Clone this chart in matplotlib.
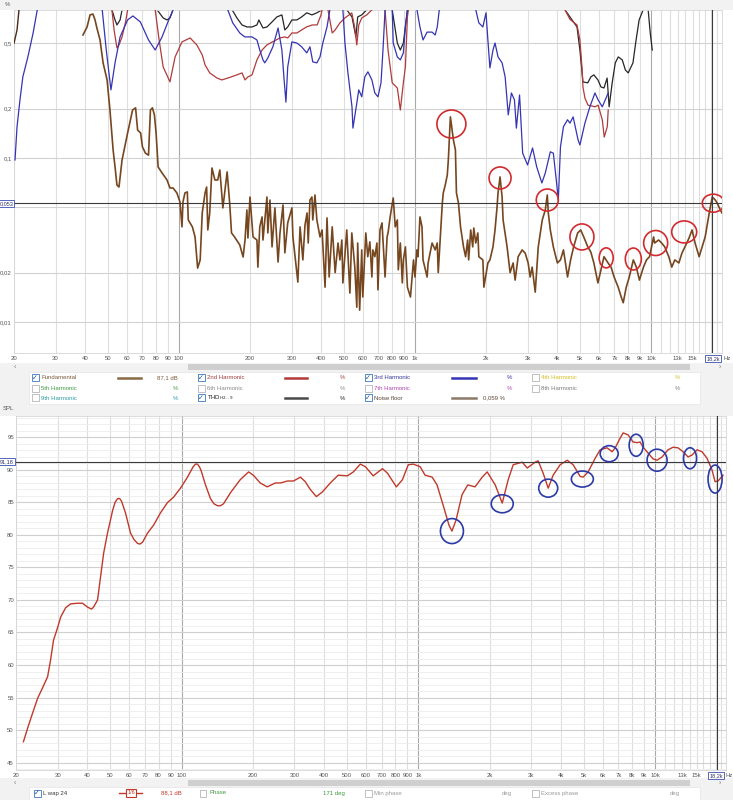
import numpy as np
import matplotlib
matplotlib.use("Agg")
import matplotlib.pyplot as plt
from matplotlib.patches import Ellipse, Rectangle
from matplotlib.transforms import ScaledTranslation
from matplotlib.ticker import NullLocator

plt.rcParams['font.family'] = ['Liberation Sans', 'DejaVu Sans']

# ---------------- DATA ----------------
# Top chart: distortion in %, frequency in Hz
noise_floor_pts = [
    (39.2,0.562),(40.8,0.629),(42.0,0.745),(43.2,0.754),(44.1,0.694),(44.9,0.620),(46.3,0.524),(47.7,0.380),
    (49.6,0.299),(51.0,0.196),(52.6,0.112),(53.6,0.0882),(54.6,0.0684),(55.7,0.0665),(57.4,0.0972),(60.6,0.142),
    (63.6,0.196),(65.5,0.202),(66.8,0.148),(68.8,0.142),(70.0,0.117),(72.1,0.107),(74.3,0.104),(75.7,0.196),
    (77.2,0.202),(78.7,0.183),(80.0,0.142),(81.6,0.0882),(84.8,0.081),(89.0,0.0734),(91.6,0.0656),(94.4,0.0656),
    (98,0.0612),(101,0.0539),(103,0.038),(104,0.0539),(106,0.0612),(108.5,0.0621),(109.5,0.0419),(114,0.038),
    (117,0.033),(120,0.0213),(123,0.0239),(125.5,0.0462),(129,0.0612),(131,0.0665),(132.5,0.0364),(135,0.0462),
    (138,0.0869),(142,0.0734),(146,0.0734),(149,0.0845),(153.5,0.0496),(160,0.0822),(164,0.0532),(167,0.0349),
    (172,0.033),(181,0.0295),(187,0.0249),(190.5,0.0316),(194,0.0482),(196,0.0325),(200,0.0578),(206,0.033),
    (214,0.0316),(216,0.0216),(220,0.038),(225,0.0437),(227,0.0316),(236,0.0578),(238,0.0349),(243,0.0554),
    (248,0.0287),(255,0.0496),(263,0.0232),(268,0.0349),(276,0.0517),(281,0.0264),(289,0.0402),(301,0.0496),
    (304,0.033),(319,0.0175),(326,0.038),(335,0.0239),(342,0.039),(349,0.0462),(353,0.0303),(359,0.0554),
    (366,0.0578),(369,0.0419),(377,0.0595),(384,0.0419),(396,0.033),(404,0.0364),(416,0.0163),(424,0.0431),
    (433,0.0188),(446,0.038),(459,0.02),(472,0.0303),(481,0.0239),(490,0.0316),(495,0.0173),(514,0.0364),
    (530,0.015),(540,0.0349),(556,0.0216),(567,0.0123),(572,0.0303),(583,0.0118),(595,0.0275),(601,0.0142),
    (619,0.0349),(631,0.025),(644,0.0308),(657,0.0188),(663,0.0275),(676,0.025),(690,0.0303),(697,0.0157),
    (711,0.0364),(725,0.0402),(747,0.0188),(762,0.033),(769,0.0349),(785,0.0437),(809,0.057),(825,0.038),
    (842,0.0419),(850,0.0208),(867,0.0303),(884,0.0173),(893,0.0239),(911,0.0287),(929,0.0163),(957,0.0142),
    (986,0.0239),(1000,0.0188),(1020,0.0275),(1030,0.025),(1050,0.0437),(1071,0.038),(1082,0.0239),(1126,0.0188),
    (1137,0.0229),(1182,0.0303),(1218,0.0275),(1243,0.0303),(1255,0.02),(1280,0.0325),(1306,0.053),(1318,0.0612),
    (1344,0.0684),(1371,0.0788),(1385,0.0972),(1413,0.178),(1455,0.129),(1484,0.112),(1499,0.0612),(1529,0.053),
    (1560,0.038),(1606,0.0287),(1639,0.025),(1672,0.0316),(1689,0.0239),(1723,0.0364),(1757,0.0287),(1775,0.0374),
    (1810,0.0303),(1847,0.0349),(1865,0.025),(1940,0.0239),(1959,0.0163),(2037,0.0229),(2078,0.0239),(2141,0.0287),
    (2184,0.0364),(2227,0.05),(2249,0.0612),(2294,0.0766),(2340,0.0578),(2363,0.0419),(2457,0.0287),(2530,0.02),
    (2606,0.0229),(2657,0.018),(2737,0.025),(2846,0.0275),(2931,0.0263),(3017,0.0229),(3077,0.0188),(3138,0.0216),
    (3233,0.0152),(3330,0.0287),(3463,0.0419),(3567,0.0482),(3637,0.0595),(3673,0.0462),(3746,0.0364),(3858,0.0287),
    (4014,0.0229),(4136,0.0239),(4259,0.0275),(4432,0.0188),(4566,0.0239),(4702,0.0287),(4892,0.0349),(5039,0.0364),
    (5190,0.033),(5400,0.0287),(5562,0.0267),(5729,0.0229),(5961,0.0173),(6140,0.0208),(6324,0.025),(6580,0.0229),
    (6777,0.0216),(6980,0.0188),(7263,0.0163),(7481,0.0142),(7629,0.0131),(7857,0.0163),(8093,0.0188),(8420,0.0239),
    (8673,0.0216),(8934,0.018),(9295,0.0216),(9574,0.0239),(9862,0.025),(10260,0.033),(10360,0.0303),(10780,0.0316),
    (11100,0.0303),(11440,0.0287),(11900,0.025),(12250,0.0216),(12620,0.0239),(13130,0.0229),(13530,0.0263),
    (13930,0.0287),(14500,0.0325),(14930,0.0364),(15380,0.0303),(16000,0.025),(16480,0.0287),(16970,0.033),
    (17660,0.0462),(18190,0.0578),(18730,0.0554),(19100,0.053),(19670,0.0482),(20000,0.0462),
]

h2_segments = [
    [(52.0,0.8),(53.1,0.603),(54.6,0.469),(55.7,0.488),(57.4,0.547),(59.4,0.675),(60.6,0.8)],
    [(79.3,0.8),(82.4,0.524),(85.7,0.359),(91.6,0.291),(96.3,0.413),(103,0.51),(111.5,0.539),(119,0.489),
     (125.5,0.425),(129,0.369),(135,0.33),(145,0.307),(152,0.299),(161,0.307),(176,0.321),(185,0.33),
     (190.5,0.299),(196,0.312),(204,0.321),(214,0.396),(225,0.455),(236,0.489),(249,0.51),(268,0.539),
     (281,0.547),(289,0.539),(301,0.578),(316,0.578),(331,0.603),(347,0.629),(367,0.647),(385,0.647),
     (400,0.745),(404,0.8)],
    [(428,0.8),(446,0.578),(459,0.603),(481,0.666),(505,0.714),(540,0.766),(556,0.62),(567,0.489),
     (578,0.647),(595,0.714),(625,0.745),(657,0.8)],
    [(747,0.8),(769,0.455),(801,0.287),(842,0.267),(867,0.196),(893,0.287),(911,0.359),(929,0.724),(938,0.8)],
    [(4321,0.8),(4537,0.7),(4860,0.647),(5000,0.524),(5100,0.359),(5150,0.271),(5250,0.232),(5410,0.21),
     (5800,0.205),(5970,0.21),(6220,0.171),(6340,0.134),(6530,0.155),(6590,0.196)],
]

h3_segments = [
    [(20.2,0.0972),(20.6,0.155),(21.2,0.226),(21.8,0.312),(22.9,0.413),(24.1,0.578),(25.1,0.8)],
    [(47.3,0.8),(49.2,0.455),(51.5,0.26),(53.6,0.38),(56.3,0.547),(60.6,0.694),(63.8,0.734),(68.6,0.675),
     (74.3,0.524),(79.3,0.455),(84.8,0.547),(89.8,0.675),(94.4,0.8)],
    [(161,0.8),(169,0.666),(181,0.578),(190,0.547),(204,0.547),(214,0.524),(220,0.455),(227,0.396),(231,0.38),
     (238,0.407),(250,0.476),(263,0.62),(273,0.455),(279,0.299),(284,0.219),(289,0.359),(301,0.51),(316,0.502),
     (331,0.476),(348,0.437),(359,0.476),(369,0.385),(384,0.38),(396,0.413),(407,0.502),(424,0.629),(436,0.8)],
    [(495,0.8),(505,0.502),(520,0.33),(541,0.205),(546,0.152),(567,0.216),(578,0.26),(595,0.236),(613,0.312),
     (632,0.335),(657,0.299),(676,0.249),(697,0.236),(718,0.287),(732,0.455),(747,0.8)],
    [(801,0.8),(809,0.502),(842,0.413),(867,0.396),(893,0.437),(911,0.629),(929,0.8)],
    [(1020,0.8),(1050,0.629),(1082,0.524),(1126,0.585),(1182,0.585),(1218,0.562),(1243,0.629),(1268,0.8)],
    [(1810,0.8),(1865,0.666),(1940,0.629),(2000,0.767),(2037,0.524),(2078,0.354),(2141,0.455),(2184,0.502),
     (2249,0.413),(2340,0.38),(2411,0.312),(2485,0.183),(2563,0.249),(2640,0.226),(2690,0.152),(2775,0.242),
     (2860,0.107),(3000,0.0906),(3150,0.115),(3280,0.0882),(3450,0.0704),(3567,0.081),(3746,0.109),
     (3858,0.107),(3970,0.0734),(4050,0.0554),(4136,0.117),(4259,0.155),(4432,0.171),(4537,0.163),
     (4680,0.178),(4910,0.129),(5000,0.12),(5250,0.163),(5510,0.205),(5790,0.249),(5970,0.226),(6220,0.205),
     (6590,0.249)],
]

thd_segments = [
    [(52.0,0.8),(53.6,0.694),(54.6,0.647),(56.3,0.694),(57.4,0.8)],
    [(80.8,0.8),(85.7,0.714),(89.0,0.694),(91.6,0.714),(94.4,0.8)],
    [(168,0.8),(176,0.714),(185,0.647),(194,0.629),(204,0.629),(214,0.647),(218,0.694),(227,0.62),(236,0.629),
     (248,0.675),(260,0.724),(273,0.745),(281,0.603),(289,0.629),(301,0.694),(316,0.694),(331,0.724),
     (348,0.767),(366,0.745),(384,0.767),(404,0.8)],
    [(514,0.8),(541,0.724),(562,0.547),(572,0.724),(595,0.745),(625,0.8)],
    [(801,0.8),(842,0.502),(867,0.455),(893,0.502),(929,0.8)],
    [(4321,0.8),(4860,0.629),(5000,0.455),(5150,0.291),(5400,0.287),(5562,0.312),(5729,0.321),(5961,0.299),
     (6140,0.271),(6324,0.267),(6520,0.307),(6650,0.205),(6850,0.287),(7060,0.38),(7270,0.413),(7560,0.396),
     (7790,0.344),(8010,0.33),(8390,0.38),(8650,0.524),(8910,0.694),(9270,0.8)],
    [(9730,0.8),(9930,0.578),(10130,0.455)],
]
fund_edge_pts = [(20.0,0.5),(20.6,0.603),(21.0,0.8)]

top_circles = [(1427,0.161),(2294,0.0755),(3637,0.0554),(5100,0.033),(6460,0.0246),
               (8420,0.0242),(10470,0.0303),(13830,0.0354),(18370,0.053)]

# Bottom chart: SPL in dB
spl_freq = [21.5,22.4,23.5,24.7,25.9,27.2,28.0,28.8,30.0,30.9,32.4,34.0,36.4,38.2,40.1,41.7,42.5,44.2,45.5,
            46.9,48.7,51.2,52.4,53.7,54.8,55.8,58.0,60.9,63.0,65.2,66.8,68.5,71.9,76.2,81.5,87.3,92.5,99,106,
            112,114.5,116.8,119,121,126,132.5,137,141.9,146,150.5,161,177,192,201,215,230,249,262,280,297,318,
            333,350,371,393,425,459,502,532,569,598,645,706,741,808,857,907,952,1018,1068,1144,1200,1273,1348,
            1387,1444,1530,1618,1737,1862,1954,2113,2262,2397,2516,2747,2884,3116,3208,3368,3537,3712,3972,
            4254,4508,4827,4970,5216,5584,5861,6273,6587,6783,7120,7330,7691,8075,8400,8645,8900,9344,9808,
            10196,10704,11346,11912,12506,13130,13780,14330,15040,15790,16570,17400,17920,18450,19360]
spl_db = [48.2,50.3,52.6,54.9,56.5,58.2,60.8,63.8,65.8,67.4,68.8,69.4,69.5,69.5,68.9,68.6,68.9,70.0,73.5,
          77.2,80.3,83.8,85.0,85.6,85.6,85.2,83.4,80.3,79.3,78.7,78.6,78.9,80.3,81.5,83.4,85.0,85.8,87.2,88.9,
          90.5,90.9,90.9,90.5,89.9,87.8,85.6,84.8,84.5,84.5,84.8,86.5,88.5,89.7,89.2,88.0,87.4,88.0,88.0,88.3,
          88.3,88.9,88.2,87.0,85.9,86.6,88.0,89.2,89.1,89.7,90.9,90.5,89.1,90.2,89.5,87.4,88.5,90.8,90.9,90.5,
          89.2,88.9,87.7,84.6,81.5,80.6,82.3,86.2,87.7,87.4,88.9,89.7,87.7,84.9,88.5,90.8,91.2,90.3,91.2,91.4,
          89.5,87.2,89.2,90.8,91.5,90.8,89.0,88.9,89.7,91.8,93.1,93.4,92.8,93.4,94.9,95.7,95.4,94.3,94.2,94.3,
          93.5,92.6,91.7,91.5,92.0,93.1,93.5,93.4,92.8,92.0,92.3,93.1,92.8,91.8,90.0,88.2,88.3,89.2]
bottom_circles = [(1387,80.6),(2262,84.8),(3537,87.2),(4930,88.6),(6400,92.5),
                  (8320,93.8),(10196,91.5),(14050,91.8),(17920,88.6)]

x_tick_freqs = [20,30,40,50,60,70,80,90,100,200,300,400,500,600,700,800,900,
                1000,2000,3000,4000,5000,6000,7000,8000,9000,10000,13000,15000]
x_tick_labels = ["20","30","40","50","60","70","80","90","100","200","300","400","500","600","700",
                 "800","900","1k","2k","3k","4k","5k","6k","7k","8k","9k","10k","13k","15k"]
top_y_ticks = [0.01, 0.02, 0.1, 0.2, 0.5]
top_y_labels = ["0,01", "0,02", "0,1", "0,2", "0,5"]
spl_ticks = [45,50,55,60,65,70,75,80,85,90,95]
cursor_freq = 18200
cursor_pct = 0.053
cursor_spl = 91.18

# ---------------- FIGURE ----------------
W, H = 733, 800
fig = plt.figure(figsize=(W/100, H/100), dpi=100, facecolor='white')

def fx(px): return px / W
def fy(py): return 1 - py / H

def grey_band(y0, y1):
    fig.patches.append(Rectangle((0, fy(y1)), 1, (y1-y0)/H, transform=fig.transFigure,
                                 facecolor='#f2f2f2', edgecolor='none', zorder=-5))

grey_band(0, 10)
grey_band(363, 416)
grey_band(778, 800)

ax1 = fig.add_axes([fx(14), fy(353), 708/W, 343/H])
ax2 = fig.add_axes([fx(16), fy(770), 710/W, 354/H])

grid_freqs = [20,30,40,50,60,70,80,90,100,200,300,400,500,600,700,800,900,1000,2000,3000,4000,
              5000,6000,7000,8000,9000,10000,11000,12000,13000,14000,15000,16000,17000,18000,19000,20000]

for ax in (ax1, ax2):
    ax.set_xscale('log')
    for g in grid_freqs:
        dark = g in (100, 1000, 10000)
        ax.axvline(g, color='#a9a9a9' if dark else '#dedede', lw=0.8, zorder=0)
    for s in ax.spines.values():
        s.set_color('#d6d6d6'); s.set_linewidth(0.6)
    ax.set_xticks(x_tick_freqs)
    ax.set_xticklabels(x_tick_labels)
    ax.xaxis.set_minor_locator(NullLocator())
    ax.tick_params(axis='x', length=0, pad=2.5, labelsize=4.3, labelcolor='#555555')
    ax.tick_params(axis='y', length=0, pad=1.5, labelsize=4.3, labelcolor='#555555')

# ---- top chart ----
ax1.set_yscale('log')
for g in [0.01, 0.02, 0.05, 0.1, 0.2, 0.5]:
    ax1.axhline(g, color='#d2d2d2', lw=0.8, zorder=0)
ax1.set_yticks(top_y_ticks)
ax1.set_yticklabels(top_y_labels)
ax1.yaxis.set_minor_locator(NullLocator())

for seg in h2_segments:
    f, v = zip(*seg); ax1.plot(f, v, color='#b23a3a', lw=0.9, zorder=3)
for seg in h3_segments:
    f, v = zip(*seg); ax1.plot(f, v, color='#3434b4', lw=0.9, zorder=3)
for seg in thd_segments:
    f, v = zip(*seg); ax1.plot(f, v, color='#262626', lw=0.9, zorder=2)
f, v = zip(*fund_edge_pts); ax1.plot(f, v, color='#4a2a18', lw=1.0, zorder=3)
nf, nv = zip(*noise_floor_pts)
ax1.plot(nf, nv, color='#76461f', lw=1.2, zorder=4)

ax1.axhline(cursor_pct, color='#3a3a3a', lw=0.8, zorder=5)
ax1.axvline(cursor_freq, color='#3a3a3a', lw=0.8, zorder=5)

def ring(ax, f, v, w, h, color):
    tr = fig.dpi_scale_trans + ScaledTranslation(f, v, ax.transData)
    ax.add_patch(Ellipse((0, 0), w/100, h/100, transform=tr, fill=False, ec=color, lw=1.2, zorder=6))

top_sizes = [(29,28),(22,22),(22,22),(24,26),(14,20),(16,22),(24,25),(25,22),(22,18)]
for (f, v), (w, h) in zip(top_circles, top_sizes):
    ring(ax1, f, v, w, h, '#d12b2e')

ax1.set_xlim(20, 20000)
ax1.set_ylim(0.00647, 0.798)

# ---- bottom chart ----
for d in range(44, 99):
    ax2.axhline(d, color='#cfcfcf' if d % 5 == 0 else '#ededed', lw=0.8 if d % 5 == 0 else 0.6, zorder=0)
ax2.set_yticks(spl_ticks)
ax2.set_yticklabels([str(t) for t in spl_ticks])
ax2.plot(spl_freq, spl_db, color='#c0392b', lw=1.0, zorder=4, solid_joinstyle='round')
ax2.axhline(cursor_spl, color='#3a3a3a', lw=0.8, zorder=5)
ax2.axvline(cursor_freq, color='#3a3a3a', lw=0.8, zorder=5)
bot_sizes = [(23,25),(22,18),(19,18),(22,16),(18,16),(14,22),(20,22),(13,21),(14,28)]
for (f, v), (w, h) in zip(bottom_circles, bot_sizes):
    ring(ax2, f, v, w, h, '#2b3aa6')
ax2.set_xlim(20, 19930)
ax2.set_ylim(43.85, 98.3)

# ---- axis captions and cursor boxes ----
def ftext(px, py, s, **kw):
    kw.setdefault('fontsize', 4.3)
    kw.setdefault('color', '#555555')
    kw.setdefault('va', 'center')
    return fig.text(fx(px), fy(py), s, **kw)

ftext(7, 5, '%', ha='center')
ftext(8, 409, 'SPL', ha='center')
box = dict(boxstyle='square,pad=0.15', fc='white', ec='#3a4db0', lw=0.6)
ftext(6.5, 203.5, '0,053', ha='center', bbox=box, fontsize=4.0, color='#333366')
ftext(7, 461.5, '91,18', ha='center', bbox=box, fontsize=4.0, color='#333366')
ftext(713, 358.5, '18,2k', ha='center', bbox=box, fontsize=4.0, color='#333366')
ftext(727.5, 358.5, 'Hz', ha='center')
ftext(716, 775.5, '18,2k', ha='center', bbox=box, fontsize=4.0, color='#333366')
ftext(729.5, 775.5, 'Hz', ha='center')

# scrollbars
for yb in (367, 783):
    fig.patches.append(Rectangle((fx(188), fy(yb+3)), (690-188)/W, 6/H, transform=fig.transFigure,
                                 facecolor='#cfcfcf', edgecolor='none'))
    ftext(15, yb, '‹', ha='center', fontsize=5, color='#777777')
    ftext(720, yb, '›', ha='center', fontsize=5, color='#777777')

# ---- legends ----
def legend_box(x0, y0, x1, y1):
    fig.patches.append(Rectangle((fx(x0), fy(y1)), (x1-x0)/W, (y1-y0)/H, transform=fig.transFigure,
                                 facecolor='white', edgecolor='#e4e4e4', lw=0.5))

def checkbox(px, py, checked):
    ec = '#3a78c0' if checked else '#b5b5b5'
    fig.patches.append(Rectangle((fx(px-3.5), fy(py+3.5)), 7/W, 7/H, transform=fig.transFigure,
                                 facecolor='white', edgecolor=ec, lw=0.6))
    if checked:
        fig.text(fx(px), fy(py), '✓', fontsize=5, color='#1f4f8f', ha='center', va='center',
                 family='DejaVu Sans')

def sample(x0, x1, py, color, lw=1.8):
    fig.lines.append(plt.Line2D([fx(x0), fx(x1)], [fy(py), fy(py)], transform=fig.transFigure,
                                color=color, lw=lw))

legend_box(29, 372, 700, 404)
rows = [378, 388, 398]
top_items = [
    (0, 35, True, 'Fundamental', '#7a5a3a'), (0, 201, True, '2nd Harmonic', '#a03c3c'),
    (0, 368, True, '3rd Harmonic', '#34349c'), (0, 535, False, '4th Harmonic', '#d2be1e'),
    (1, 35, False, '5th Harmonic', '#3f9a3f'), (1, 201, False, '6th Harmonic', '#8a8a8a'),
    (1, 368, False, '7th Harmonic', '#b045b0'), (1, 535, False, '8th Harmonic', '#7a7a7a'),
    (2, 35, False, '9th Harmonic', '#2a9aa0'), (2, 201, True, 'THD$_{H2..9}$', '#222222'),
    (2, 368, True, 'Noise floor', '#5a4636'),
]
for r, cx, chk, lab, col in top_items:
    checkbox(cx, rows[r], chk)
    ftext(cx + 6, rows[r], lab, ha='left', color=col)

sample(118, 141, rows[0], '#8a6a45')
sample(285, 307, rows[0], '#b23a3a')
sample(452, 476, rows[0], '#3434b4')
sample(285, 307, rows[2], '#4a4a4a')
sample(452, 476, rows[2], '#8c7a68')
values = [(0, 178, '87,1 dB', '#7a5a3a'), (0, 345, '%', '#a03c3c'), (0, 512, '%', '#34349c'),
          (0, 680, '%', '#d2be1e'), (1, 178, '%', '#3f9a3f'), (1, 345, '%', '#8a8a8a'),
          (1, 512, '%', '#b045b0'), (1, 680, '%', '#7a7a7a'), (2, 178, '%', '#2a9aa0'),
          (2, 345, '%', '#222222'), (2, 505, '0,059 %', '#5a4636')]
for r, xr, s, col in values:
    ftext(xr, rows[r], s, ha='right', color=col)

# bottom legend
legend_box(29, 787, 700, 806)
yl = 793
checkbox(37, yl, True)
ftext(43, yl, 'L wap 24', ha='left', color='#3a3a3a')
sample(119, 142, yl, '#c0392b', lw=1.0)
ftext(131, yl, '1/6', ha='center', color='#c0392b', fontsize=4.0,
      bbox=dict(boxstyle='square,pad=0.2', fc='white', ec='#c0392b', lw=0.8))
ftext(182, yl, '88,1 dB', ha='right', color='#c0392b')
checkbox(203, yl, False)
ftext(209, yl, 'Phase', ha='left', color='#3f9a3f')
ftext(345, yl, '171 deg', ha='right', color='#3f9a3f')
checkbox(368, yl, False)
ftext(374, yl, 'Min phase', ha='left', color='#9a9a9a')
ftext(512, yl, 'deg', ha='right', color='#9a9a9a')
checkbox(535, yl, False)
ftext(541, yl, 'Excess phase', ha='left', color='#9a9a9a')
ftext(680, yl, 'deg', ha='right', color='#9a9a9a')

fig.savefig('out.png', dpi=100, facecolor=fig.get_facecolor())
